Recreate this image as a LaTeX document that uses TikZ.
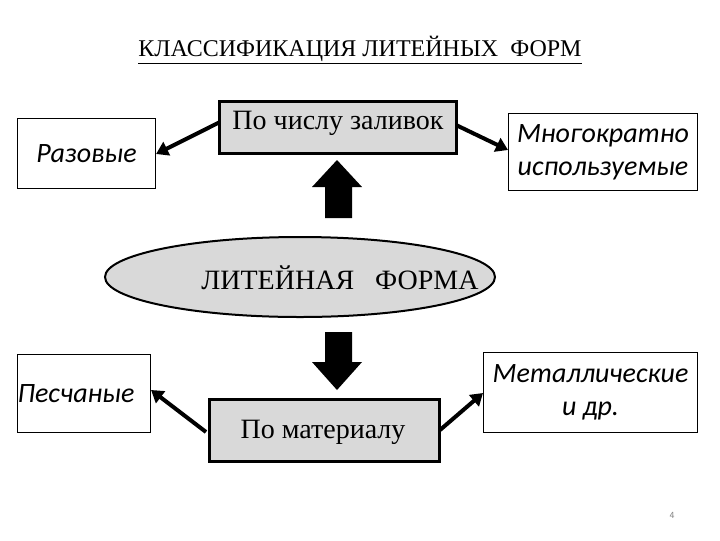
\documentclass[tikz,border=0pt]{standalone}
\usepackage{fontspec}
\setmainfont{Liberation Serif}
\newfontfamily\carlitofont{Carlito}
\usetikzlibrary{shapes.geometric,arrows.meta}
\begin{document}
\begin{tikzpicture}[x=0.75pt,y=-0.75pt,
  wbox/.style={draw,thick,fill=white,font=\carlitofont\itshape\fontsize{21}{25}\selectfont,align=center,inner sep=0},
  gbox/.style={draw,line width=2pt,fill=gray!30,inner sep=0},
  gtext/.style={font=\bfseries\fontsize{21}{25}\selectfont},
  conn/.style={line width=3pt,-{Triangle[length=9pt,width=11pt]}},
  blk/.style={fill=black}]
\useasboundingbox (0,0) rectangle (720,540);
\node[font=\fontsize{18}{22}\selectfont] (title) at (360,50) {\underline{КЛАССИФИКАЦИЯ ЛИТЕЙНЫХ\ \ ФОРМ}};
\node[wbox,minimum width={138*0.75},minimum height={70*0.75},anchor=north west] (raz) at (17,118) {Разовые};
\node[gbox,minimum width={237*0.75},minimum height={52*0.75},anchor=north west] (chis) at (218,100) {};
\node[gtext,font=\fontsize{21}{25}\selectfont] (chist) at (338,123) {По числу заливок};
\node[wbox,minimum width={189*0.75},minimum height={77*0.75},anchor=north west] (mnog) at (508,113) {Многократно\\используемые};
\node[ellipse,draw,line width=1.5pt,fill=gray!30,minimum width={390*0.75},minimum height={80*0.75}] (ell) at (300,277) {};
\node[font=\fontsize{21}{25}\selectfont] (ellt) at (340,278) {ЛИТЕЙНАЯ\ \ \ ФОРМА};
\node[wbox,minimum width={133*0.75},minimum height={78*0.75},anchor=north west] (pes) at (17,354) {\hspace*{-12pt}Песчаные};
\node[gbox,minimum width={230*0.75},minimum height={62*0.75},anchor=north west] (mat) at (208,398) {};
\node[font=\fontsize{21}{25}\selectfont] (matt) at (323,432) {По материалу};
\node[wbox,minimum width={214*0.75},minimum height={80*0.75},anchor=north west] (met) at (483,352) {Металлические\\и др.};
\node[font=\sffamily\scriptsize,text=gray] (pg) at (672,515) {4};
\fill[blk] (337,160) -- (362,187) -- (352,187) -- (352,218) -- (325,218) -- (325,187) -- (312,187) -- cycle;
\fill[blk] (337,390) -- (362,362) -- (352,362) -- (352,332) -- (325,332) -- (325,362) -- (312,362) -- cycle;
\coordinate (a1) at (220,122); \coordinate (a2) at (456,125);
\coordinate (a3) at (206,432); \coordinate (a4) at (440,430);
\draw[conn] (a1) -- (raz.east |- 0,154);
\draw[conn] (a2) -- (mnog.west |- 0,150);
\draw[conn] (a3) -- (pes.east |- 0,390);
\draw[conn] (a4) -- (met.west |- 0,393);
\end{tikzpicture}
\end{document}
